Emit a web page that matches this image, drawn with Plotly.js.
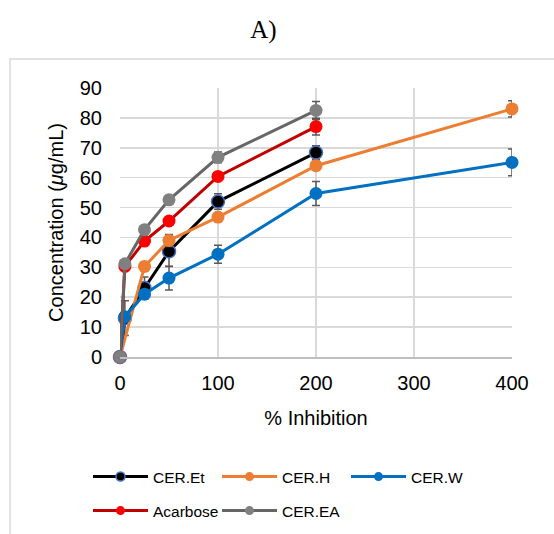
<!DOCTYPE html>
<html>
<head>
<meta charset="utf-8">
<script src="https://cdn.plot.ly/plotly-3.0.1.min.js"></script>
<style>html,body{margin:0;padding:0;background:#fff;}#chart{width:554px;height:534px;}</style>
</head>
<body>
<div id="chart"></div>
<script>
const seriesNames = ["CER.Et", "CER.H", "CER.W", "Acarbose", "CER.EA"];

const xEt = [0, 5, 25, 50, 100, 200];
const yEt = [0, 13.0, 23.1, 35.3, 52.0, 68.4];
const eEt = [0, 5.8, 3.7, 5.0, 2.6, 2.3];

const xH = [0, 25, 50, 100, 200, 400];
const yH = [0, 30.3, 39.0, 46.8, 64.0, 83.0];
const eH = [0, 1.5, 2.0, 1.5, 1.5, 2.7];

const xW = [0, 5, 25, 50, 100, 200, 400];
const yW = [0, 13.5, 21.0, 26.4, 34.4, 54.7, 65.1];
const eW = [0, 1.5, 1.5, 4.0, 3.0, 4.0, 4.5];

const xAc = [0, 5, 25, 50, 100, 200];
const yAc = [0, 30.3, 38.8, 45.5, 60.4, 77.1];
const eAc = [0, 1.0, 1.0, 1.0, 1.0, 2.8];

const xEA = [0, 5, 25, 50, 100, 200];
const yEA = [0, 31.2, 42.6, 52.6, 66.8, 82.5];
const eEA = [0, 1.0, 1.0, 1.0, 1.8, 3.0];

const xTicks = [0, 100, 200, 300, 400];
const yTicks = [0, 10, 20, 30, 40, 50, 60, 70, 80, 90];

const errStyle = (arr) => ({type: 'data', array: arr, visible: true, color: '#595959', thickness: 1.5, width: 4});

const styles = [
  {line: {color: '#000000', width: 3}, mc: '#000000', ml: {color: '#4472C4', width: 1.5}, legend: 'legend'},
  {line: {color: '#ED7D31', width: 3}, mc: '#ED7D31', ml: {width: 0}, legend: 'legend'},
  {line: {color: '#0070C0', width: 3}, mc: '#0070C0', ml: {width: 0}, legend: 'legend'},
  {line: {color: '#C00000', width: 3}, mc: '#FF0000', ml: {width: 0}, legend: 'legend2'},
  {line: {color: '#666666', width: 3}, mc: '#808080', ml: {width: 0}, legend: 'legend2'}
];
const xs = [xEt, xH, xW, xAc, xEA];
const ys = [yEt, yH, yW, yAc, yEA];
const es = [eEt, eH, eW, eAc, eEA];

const traces = [];
seriesNames.forEach((n, i) => {
  traces.push({type: 'scatter', mode: 'lines+markers', x: xs[i], y: ys[i], name: n, showlegend: false,
    cliponaxis: false, error_y: errStyle(es[i]), line: styles[i].line,
    marker: {color: styles[i].mc, size: 13, line: styles[i].ml}});
});
// legend-only entries with smaller markers
seriesNames.forEach((n, i) => {
  traces.push({type: 'scatter', mode: 'lines+markers', x: [null], y: [null], name: n, showlegend: true,
    legend: styles[i].legend, line: styles[i].line,
    marker: {color: styles[i].mc, size: 9, line: styles[i].ml}});
});

const L = 120, R = 42, T = 88, B = 177;
const pw = 554 - L - R, ph = 534 - T - B;
const px = v => (v - L) / pw;
const py = v => (534 - B - v) / ph;

const legendCommon = {orientation: 'h', font: {family: 'Liberation Sans, Arial, sans-serif', size: 15.5, color: '#000'},
  itemwidth: 55, entrywidth: 59, entrywidthmode: 'pixels', bgcolor: 'rgba(0,0,0,0)',
  xref: 'container', yref: 'container', xanchor: 'left', yanchor: 'middle', traceorder: 'normal'};

const layout = {
  width: 554, height: 534,
  margin: {l: L, r: R, t: T, b: B},
  paper_bgcolor: '#ffffff', plot_bgcolor: '#ffffff',
  showlegend: true,
  font: {family: 'Liberation Sans, Arial, sans-serif', color: '#000'},
  title: {text: 'A)', font: {family: 'Liberation Serif, Times New Roman, serif', size: 25, color: '#000'},
          x: 263.5 / 554, xanchor: 'center', xref: 'container', y: 1 - 29 / 534, yanchor: 'middle', yref: 'container'},
  xaxis: {range: [0, 400], tickvals: xTicks, ticktext: xTicks.map(String), showgrid: true, gridcolor: '#d9d9d9', gridwidth: 1.5,
          zeroline: false, showline: true, linecolor: '#bfbfbf', linewidth: 1.5, ticks: '', ticklabelstandoff: 7,
          tickfont: {size: 20, color: '#000'}, automargin: false,
          title: {text: '% Inhibition', font: {size: 20, color: '#000'}, standoff: 18}, fixedrange: true},
  yaxis: {range: [0, 90], tickvals: yTicks, showgrid: true, gridcolor: '#d9d9d9', gridwidth: 1.5,
          zeroline: false, showline: false, ticks: '', ticklabelstandoff: 17, tickfont: {size: 20, color: '#000'}, automargin: false,
          title: {text: 'Concentration (<i>μ</i>g/mL)', font: {size: 20, color: '#000'}, standoff: 10}, fixedrange: true},
  legend: Object.assign({}, legendCommon, {x: 88 / 554, y: 1 - 477 / 534}),
  legend2: Object.assign({}, legendCommon, {x: 88 / 554, y: 1 - 511 / 534}),
  shapes: [{type: 'rect', xref: 'paper', yref: 'paper', x0: px(10), x1: px(600), y0: py(59), y1: py(600),
            line: {color: '#d9d9d9', width: 1.5}, fillcolor: 'rgba(0,0,0,0)', layer: 'below'}]
};

Plotly.newPlot('chart', traces, layout, {staticPlot: true, displayModeBar: false});
</script>
</body>
</html>
